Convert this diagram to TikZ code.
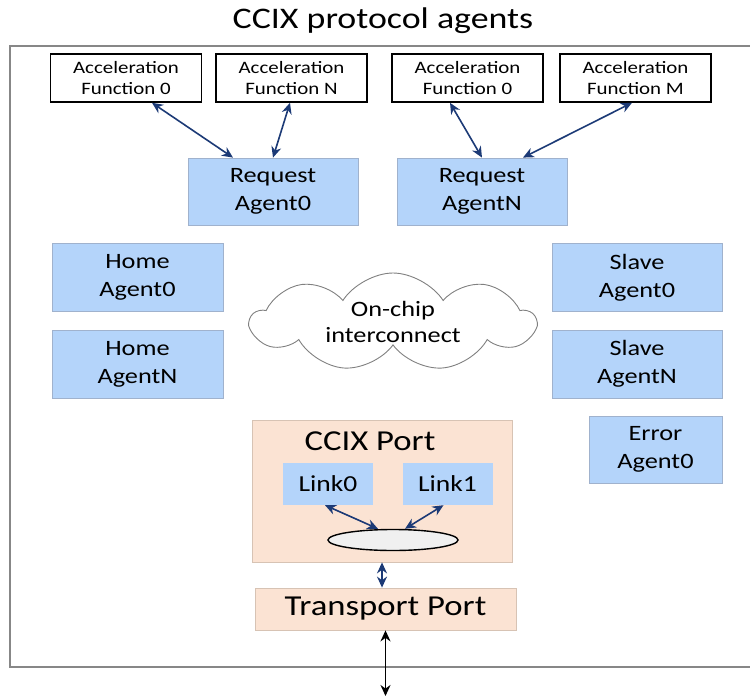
\documentclass[tikz,border=0pt]{standalone}
\usepackage{fontspec}
\setmainfont{Carlito}[FakeStretch=1.2]
\usetikzlibrary{arrows.meta,shapes.geometric,shapes.symbols}

\definecolor{agentblue}{RGB}{180,212,250}
\definecolor{agentline}{RGB}{160,178,205}
\definecolor{portpeach}{RGB}{251,227,211}
\definecolor{portline}{RGB}{215,195,180}
\definecolor{linknavy}{RGB}{28,58,118}
\definecolor{framegray}{RGB}{135,135,135}

\begin{document}
\begin{tikzpicture}[x=1bp, y=-1bp,
      agent/.style={draw=agentline, fill=agentblue, line width=0.8bp, align=center, inner sep=0pt,
        minimum width=170bp, minimum height=68bp, font=\fontsize{22}{28}\selectfont},
      accel/.style={draw=black, fill=white, line width=1.6bp, align=center, inner sep=0pt,
        minimum width=151bp, minimum height=48bp, font=\fontsize{17.5}{21.5}\selectfont},
      port/.style={draw=portline, fill=portpeach, line width=0.8bp, inner sep=0pt},
      link/.style={fill=agentblue, inner sep=0pt, minimum width=90bp, minimum height=42bp,
        font=\fontsize{23}{28}\selectfont},
      arrow/.style={{Stealth[length=11bp,width=10bp]}-{Stealth[length=11bp,width=10bp]}, line width=1.6bp, draw=linknavy},
      frame/.style={draw=framegray, line width=1.8bp}
    ]
    \useasboundingbox (0,0) rectangle (750,698);

    \node[font=\fontsize{30}{34}\selectfont] (title) at (383,21) {CCIX protocol agents};
    \draw[frame] (752,46) -- (10,46) -- (10,667) -- (752,667);

    % acceleration functions
    \node[accel] (af0) at (126,78) {Acceleration\\Function 0};
    \node[accel] (afN) at (291.5,78) {Acceleration\\Function N};
    \node[accel] (afB) at (467.5,78) {Acceleration\\Function 0};
    \node[accel] (afM) at (635.5,78) {Acceleration\\Function M};

    % agents
    \node[agent, minimum height=67bp] (reqA) at (273,191.5) {Request\\Agent0};
    \node[agent, minimum height=67bp] (reqN) at (482,191.5) {Request\\AgentN};
    \node[agent, minimum width=171bp] (homeA) at (137.5,277.5) {Home\\Agent0};
    \node[agent, minimum width=171bp] (homeN) at (137.5,364) {Home\\AgentN};
    \node[agent] (slaveA) at (637,277.5) {Slave\\Agent0};
    \node[agent] (slaveN) at (637,364) {Slave\\AgentN};
    \node[agent, minimum width=133bp, minimum height=67bp] (errA) at (655.5,449.5) {Error\\Agent0};

    \node[cloud, cloud puffs=9, cloud puff arc=115, aspect=2.9, draw=gray, line width=0.9bp, fill=white,
      minimum width=284bp, minimum height=98bp, inner sep=0pt, align=center,
      font=\fontsize{22}{27}\selectfont] (noc) at (393,322) {On-chip\\interconnect};

    % ports
    \node[port, minimum width=260bp, minimum height=142bp] (ccix) at (382,491) {};
    \node[font=\fontsize{29}{34}\selectfont] (ccixlbl) at (370,441) {CCIX Port};
    \node[link] (link0) at (328,484) {Link0};
    \node[link] (link1) at (447.5,484) {Link1};
    \node[ellipse, draw=black, fill=black!6, line width=1.4bp, minimum width=130bp, minimum height=21bp,
      inner sep=0pt] (hub) at (393,540) {};
    \node[port, minimum width=261bp, minimum height=42bp, font=\fontsize{29}{34}\selectfont] (tport) at (385.5,609) {Transport Port};
    \coordinate (ext) at (385.5,696);

    \draw[arrow] ([xshift=26bp]af0.south) -- ([xshift=-40bp]reqA.north);
    \draw[arrow] ([xshift=-1.5bp]afN.south) -- (reqA.north);
    \draw[arrow] ([xshift=-17.5bp]afB.south) -- (reqN.north);
    \draw[arrow] ([xshift=-3.5bp]afM.south) -- ([xshift=41bp]reqN.north);
    \draw[arrow] ([xshift=-3bp]link0.south) -- ([xshift=-15bp]hub.north);
    \draw[arrow] ([xshift=-4bp]link1.south) -- ([xshift=12bp]hub.north);
    \draw[arrow] (ccix.south) -- (ccix.south |- tport.north);
    \draw[arrow, draw=black] (tport.south) -- (ext);
  \end{tikzpicture}
\end{document}
